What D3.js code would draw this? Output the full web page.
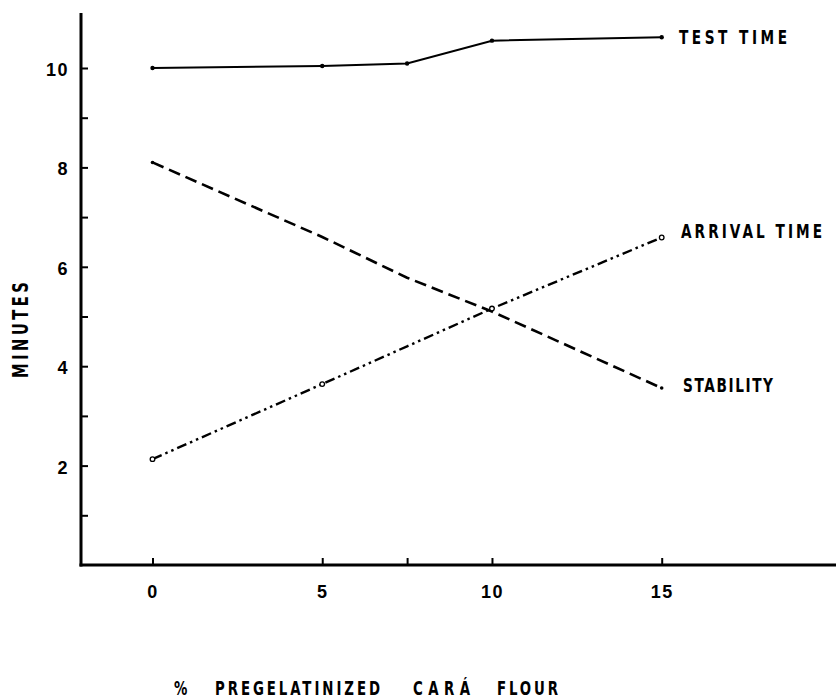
<!DOCTYPE html>
<html>
<head>
<meta charset="utf-8">
<script src="https://cdn.jsdelivr.net/npm/d3@7"></script>
<style>
  html, body { margin: 0; padding: 0; background: #fff; }
  svg { display: block; }
</style>
</head>
<body>
<svg id="chart" width="836" height="699"></svg>
<script>
// ---- data ----
const pctFlour = [0, 5, 7.5, 10, 15];
const testTime = [10.0, 10.04, 10.09, 10.55, 10.62];
const stability = [8.1, 6.6, 5.78, 5.1, 3.56];
const arrivalTime = [2.13, 3.64, 4.4, 5.16, 6.59];
const xTickValues = [0, 5, 7.5, 10, 15];
const xTickLabels = ["0", "5", "", "10", "15"];
const yTickValues = [1, 2, 3, 4, 5, 6, 7, 8, 9, 10];
const yTickLabels = ["", "2", "", "4", "", "6", "", "8", "", "10"];
const seriesNames = ["TEST TIME", "ARRIVAL TIME", "STABILITY"];
const yTitle = "MINUTES";
const xTitleWords = ["%", "PREGELATINIZED", "CARÁ", "FLOUR"];

// ---- layout ----
const svg = d3.select("#chart");
const axisX = 81, axisY = 565;
const x = d3.scaleLinear().domain([0, 15]).range([152.5, 661.7]);
const y = d3.scaleLinear().domain([0, 10]).range([565, 68]);

const tickFont = "'Liberation Sans', Arial, sans-serif";
const condFont = "'DejaVu Sans Condensed', 'DejaVu Sans', sans-serif";
const squeeze = 0.78;

// Y axis
const yAxis = d3.axisLeft(y)
  .tickValues(yTickValues)
  .tickFormat((d, i) => yTickLabels[i])
  .tickSize(-7)
  .tickPadding(12);
const gy = svg.append("g").attr("transform", `translate(${axisX},0)`).call(yAxis);
gy.select(".domain").remove();
gy.selectAll(".tick line").attr("stroke", "#000").attr("stroke-width", 2);
gy.selectAll(".tick text").attr("font-family", tickFont).attr("font-weight", "bold")
  .attr("font-size", 18).attr("letter-spacing", 1.5).attr("fill", "#000").attr("dy", "0.42em");
svg.append("line").attr("x1", axisX).attr("x2", axisX).attr("y1", 13).attr("y2", axisY + 1.5)
  .attr("stroke", "#000").attr("stroke-width", 3);

// X axis
const xAxis = d3.axisBottom(x)
  .tickValues(xTickValues)
  .tickFormat((d, i) => xTickLabels[i])
  .tickSize(-7)
  .tickPadding(20);
const gx = svg.append("g").attr("transform", `translate(0,${axisY})`).call(xAxis);
gx.select(".domain").remove();
gx.selectAll(".tick line").attr("stroke", "#000").attr("stroke-width", 2);
gx.selectAll(".tick text").attr("font-family", tickFont).attr("font-weight", "bold")
  .attr("font-size", 18).attr("letter-spacing", 1.5).attr("fill", "#000");
svg.append("line").attr("x1", axisX - 1.5).attr("x2", 836).attr("y1", axisY).attr("y2", axisY)
  .attr("stroke", "#000").attr("stroke-width", 3);

// ---- series ----
const line = d3.line().x(d => x(d[0])).y(d => y(d[1]));
function draw(vals, dash, width) {
  const pts = pctFlour.map((p, i) => [p, vals[i]]);
  svg.append("path").datum(pts).attr("d", line)
    .attr("fill", "none").attr("stroke", "#000").attr("stroke-width", width)
    .attr("stroke-dasharray", dash);
  return pts;
}
const tPts = draw(testTime, null, 2);
const sPts = draw(stability, "12,6", 2.6);
const aPts = draw(arrivalTime, "10,4,2.5,4,2.5,4", 2.4);

svg.append("g").selectAll("circle").data(tPts).join("circle")
  .attr("cx", d => x(d[0])).attr("cy", d => y(d[1])).attr("r", 2.2).attr("fill", "#000");
svg.append("g").selectAll("circle").data([sPts[0], sPts[sPts.length - 1]]).join("circle")
  .attr("cx", d => x(d[0])).attr("cy", d => y(d[1])).attr("r", 1.8).attr("fill", "#000");
svg.append("g").selectAll("circle").data(aPts.filter(d => d[0] !== 7.5)).join("circle")
  .attr("cx", d => x(d[0])).attr("cy", d => y(d[1])).attr("r", 2.3)
  .attr("fill", "#fff").attr("stroke", "#000").attr("stroke-width", 1.3);

// condensed text helper: horizontal squeeze with exact width
function condText(parent, str, px, py, width, size, rotate) {
  const t = parent.append("text")
    .attr("transform", `translate(${px},${py})${rotate ? " rotate(-90)" : ""} scale(${squeeze},1)`)
    .attr("font-family", condFont).attr("font-weight", "bold").attr("font-size", size)
    .attr("fill", "#000")
    .attr("textLength", width / squeeze).attr("lengthAdjust", "spacing")
    .text(str);
  return t;
}

// ---- series labels ----
const labelPos = [
  {x: 679, y: 44, w: 108},
  {x: 681, y: 238, w: 141},
  {x: 683, y: 392, w: 90}
];
seriesNames.forEach((n, i) => {
  condText(svg, n, labelPos[i].x, labelPos[i].y, labelPos[i].w, 19.5, false);
});

// ---- axis titles ----
condText(svg, yTitle, 28, 378, 96, 21, true);

const wordPos = [{x: 174, w: 9}, {x: 215, w: 165}, {x: 413, w: 57}, {x: 497, w: 61}];
const xt = svg.append("g");
xTitleWords.forEach((w, i) => {
  condText(xt, w, wordPos[i].x, 694.5, wordPos[i].w, 19, false);
});
</script>
</body>
</html>
